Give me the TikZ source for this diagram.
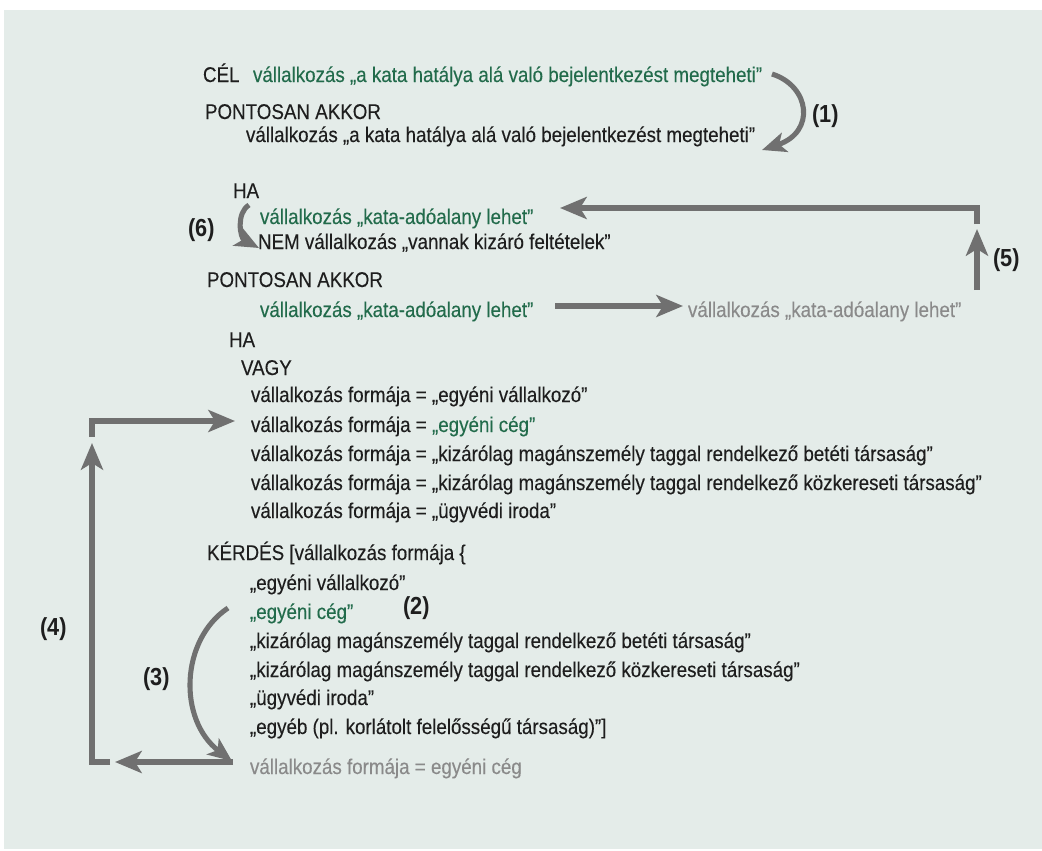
\documentclass[tikz,border=0pt]{standalone}
\usepackage{fontspec}
\setmainfont{Liberation Sans}[FakeStretch=0.88, UprightFeatures={FakeBold=0.2}]
\usetikzlibrary{arrows.meta}
\definecolor{bg}{HTML}{E4ECE9}
\definecolor{ink}{HTML}{1E1E1E}
\definecolor{grn}{HTML}{226B4B}
\definecolor{gtext}{HTML}{8A8A8A}
\definecolor{arr}{HTML}{707070}
\begin{document}
\begin{tikzpicture}[x=0.75pt,y=-0.75pt,
  txt/.style={anchor=base west, inner sep=0pt, outer sep=0pt, font=\fontsize{16}{19}\selectfont, text=ink},
  gtxt/.style={txt, text=grn},
  ytxt/.style={txt, text=gtext},
  lbl/.style={txt, font=\fontsize{18.5}{21}\selectfont\bfseries},
  conn/.style={draw=arr, line width=4.5pt, -{Stealth[length=20pt,width=16.5pt,inset=5pt]}},
  curv/.style={draw=arr, line width=3.8pt, -{Stealth[length=18pt,width=15pt,inset=4.5pt]}}
]
\fill[white] (0,0) rectangle (1042,850);
\fill[bg] (4,10) rectangle (1042,849);
\useasboundingbox (0,0) rectangle (1042,850);

% top block
\node[txt] (cel) at (203,82) {CÉL};
\node[gtxt] (celt) at (253,82) {vállalkozás „a kata hatálya alá való bejelentkezést megteheti”};
\node[txt] (pa1) at (205,119) {PONTOSAN AKKOR};
\node[txt] (pa1t) at (246,142) {vállalkozás „a kata hatálya alá való bejelentkezést megteheti”};
\node[lbl] (l1) at (812,122) {(1)};

\node[txt] (ha1) at (233,198) {HA};
\node[gtxt] (ha1a) at (260,224) {vállalkozás „kata-adóalany lehet”};
\node[txt] (ha1b) at (258,249) {NEM vállalkozás „vannak kizáró feltételek”};
\node[lbl] (l6) at (188,236) {(6)};

\node[txt] (pa2) at (207,287) {PONTOSAN AKKOR};
\node[gtxt] (pa2t) at (260,317) {vállalkozás „kata-adóalany lehet”};
\node[ytxt] (res1) at (688,317) {vállalkozás „kata-adóalany lehet”};
\node[lbl] (l5) at (993,266) {(5)};

\node[txt] (ha2) at (229,347) {HA};
\node[txt] (vagy) at (241,375) {VAGY};
\node[txt] (v1) at (251,402) {vállalkozás formája = „egyéni vállalkozó”};
\node[txt] (v2) at (251,432) {vállalkozás formája = \textcolor{grn}{„egyéni cég”}};
\node[txt] (v3) at (251,461) {vállalkozás formája = „kizárólag magánszemély taggal rendelkező betéti társaság”};
\node[txt] (v4) at (251,490) {vállalkozás formája = „kizárólag magánszemély taggal rendelkező közkereseti társaság”};
\node[txt] (v5) at (251,518) {vállalkozás formája = „ügyvédi iroda”};

\node[txt] (k) at (207,560) {KÉRDÉS [vállalkozás formája \{};
\node[txt] (k1) at (250,590) {„egyéni vállalkozó”};
\node[gtxt] (k2) at (250,619) {„egyéni cég”};
\node[txt] (k3) at (250,648) {„kizárólag magánszemély taggal rendelkező betéti társaság”};
\node[txt] (k4) at (250,677) {„kizárólag magánszemély taggal rendelkező közkereseti társaság”};
\node[txt] (k5) at (250,705) {„ügyvédi iroda”};
\node[txt] (k6) at (250,734) {„egyéb (pl. korlátolt felelősségű társaság)”]};
\node[ytxt] (res2) at (250,774) {vállalkozás formája = egyéni cég};
\node[lbl] (l2) at (403,614) {(2)};
\node[lbl] (l3) at (143,685) {(3)};
\node[lbl] (l4) at (40,635) {(4)};

% connector end points
\coordinate (a1s) at (772,74);
\coordinate (a1e) at (762,150);
\coordinate (a6s) at (249,205);
\coordinate (a6e) at (259,248);
\coordinate (h1s) at (555,306);
\coordinate (h1e) at (683,306);
\coordinate (a5s) at (977,290);
\coordinate (a5e) at (977,229);
\coordinate (b5s) at (977,224);
\coordinate (b5e) at (560,208);
\coordinate (a3s) at (228,608);
\coordinate (a3e) at (232,761);
\coordinate (a4s) at (233,762);
\coordinate (a4e) at (115,762);
\coordinate (b4s) at (110,762);
\coordinate (b4e) at (92,443);
\coordinate (c4s) at (92,437);
\coordinate (c4e) at (235,421);

% connectors
\draw[curv] (a1s) .. controls (810,86) and (816,132) .. (a1e);
\draw[curv] (a6s) .. controls (236,213) and (240,238) .. (a6e);
\draw[conn] (h1s) -- (h1e);
\draw[conn] (a5s) -- (a5e);
\draw[conn] (b5s) |- (b5e);
\draw[curv] (a3s) .. controls (180,640) and (178,720) .. (a3e);
\draw[conn] (a4s) -- (a4e);
\draw[conn] (b4s) -| (b4e);
\draw[conn] (c4s) |- (c4e);
\end{tikzpicture}
\end{document}
